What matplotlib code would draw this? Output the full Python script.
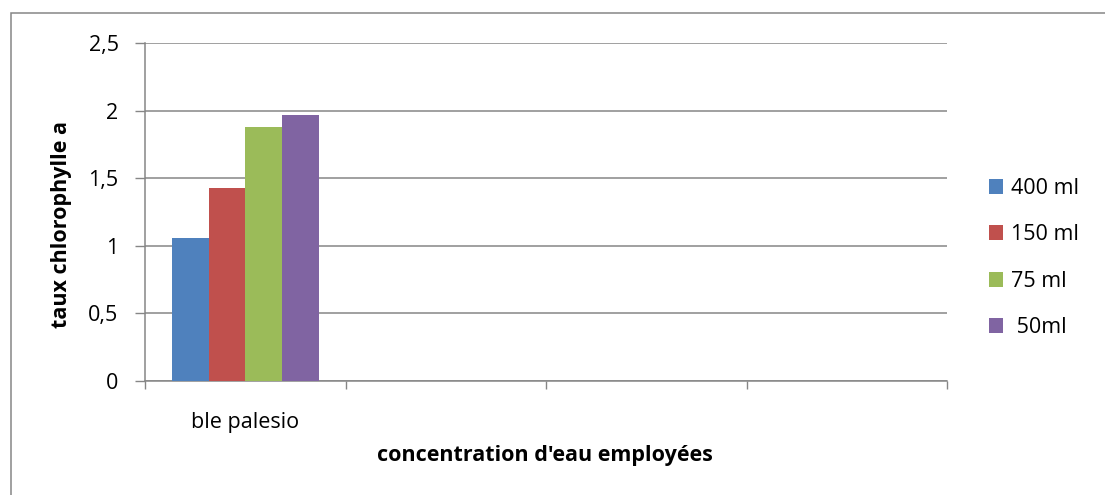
import matplotlib
matplotlib.use("Agg")
import matplotlib.pyplot as plt
from matplotlib.patches import Patch, Rectangle
from matplotlib.ticker import FixedLocator, NullFormatter

plt.rcParams['font.family'] = ['Open Sans', 'DejaVu Sans']

# chlorophyll a per watering volume, wheat variety "ble palesio"
categories = ['ble palesio', '', '', '']
series_names = ['400 ml', '150 ml', '75 ml', ' 50ml']
series_values = [[1.06], [1.43], [1.88], [1.97]]
colors = ['#4F81BD', '#C0504D', '#9BBB59', '#8064A2']
yticks = [0, 0.5, 1, 1.5, 2, 2.5]
ytick_labels = ['0', '0,5', '1', '1,5', '2', '2,5']

AXIS_GREY = '#868686'

fig = plt.figure(figsize=(11.05, 4.95), dpi=100)
ax = fig.add_axes([145 / 1105, 1 - 381 / 495, (947 - 145) / 1105, (381 - 43.3) / 495])

n_cat = len(categories)
n_ser = len(series_values)
bar_w = 0.183
for i, (vals, name, col) in enumerate(zip(series_values, series_names, colors)):
    xs = [c + 0.5 + (i - (n_ser - 1) / 2) * bar_w for c in range(len(vals))]
    ax.bar(xs, vals, width=bar_w, color=col, label=name, zorder=3)

ax.set_xlim(0, n_cat)
ax.set_ylim(0, 2.5)

# y axis with comma decimals
ax.set_yticks(yticks)
ax.set_yticklabels(ytick_labels)
ax.yaxis.grid(True, color=AXIS_GREY, linewidth=1.1, zorder=0)
ax.tick_params(axis='y', direction='out', length=7, width=1, color=AXIS_GREY,
               labelsize=15.5, pad=12)

# category boundaries get the tick marks, names sit between them
ax.xaxis.set_major_locator(FixedLocator([c + 0.5 for c in range(n_cat)]))
ax.set_xticklabels(categories)
ax.xaxis.set_minor_locator(FixedLocator(list(range(n_cat + 1))))
ax.xaxis.set_minor_formatter(NullFormatter())
ax.tick_params(axis='x', which='major', length=0, labelsize=15.5, pad=22)
ax.tick_params(axis='x', which='minor', direction='out', length=6, width=1,
               color=AXIS_GREY)

for side in ['top', 'right']:
    ax.spines[side].set_visible(False)
for side in ['left', 'bottom']:
    ax.spines[side].set_color(AXIS_GREY)
    ax.spines[side].set_linewidth(1.1)
ax.set_axisbelow(True)

fig.text(545 / 1105, 1 - 455 / 495, "concentration d'eau employées",
         ha='center', va='center', fontsize=15.5, fontweight='bold')
fig.text(62 / 1105, 1 - 225 / 495, 'taux chlorophylle a', rotation=90,
         ha='center', va='center', fontsize=15.5, fontweight='bold')

handles = [Patch(facecolor=c, edgecolor='none') for c in colors]
fig.legend(handles, series_names, loc='center left',
           bbox_to_anchor=(980 / 1105, 1 - 258 / 495), frameon=False,
           fontsize=15.5, handlelength=0.68, handleheight=0.68,
           handletextpad=0.35, labelspacing=1.18, borderaxespad=0)

# chart area outline
fig.patches.append(Rectangle((11 / 1105, -0.5), 2, 0.5 + 1 - 13.3 / 495,
                             transform=fig.transFigure, fill=False,
                             edgecolor=AXIS_GREY, linewidth=1.1))

fig.savefig('out.png', dpi=100)
